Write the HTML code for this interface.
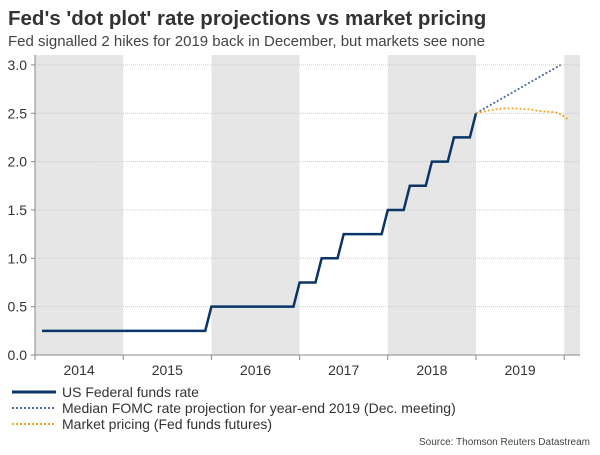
<!DOCTYPE html>
<html><head><meta charset="utf-8"><style>
body{margin:0;width:600px;height:450px;background:#fff;font-family:"Liberation Sans",sans-serif;overflow:hidden}
</style></head><body>
<svg width="600" height="450" id="c" font-family="Liberation Sans, sans-serif">
<text x="8" y="25" font-size="20.5" font-weight="bold" fill="#333">Fed's 'dot plot' rate projections vs market pricing</text>
<text x="8" y="46" font-size="15" fill="#444">Fed signalled 2 hikes for 2019 back in December, but markets see none</text>
<g id="bands"></g><g id="grid"></g><g id="axes"></g><g id="series"></g>
<g>
<line x1="12" y1="392" x2="56" y2="392" stroke="#0a3566" stroke-width="3"/>
<text x="62" y="397" font-size="14" fill="#333">US Federal funds rate</text>
<line x1="12" y1="408" x2="56" y2="408" stroke="#4a6d96" stroke-width="2" stroke-dasharray="2,2"/>
<text x="62" y="413" font-size="14" fill="#333">Median FOMC rate projection for year-end 2019 (Dec. meeting)</text>
<line x1="12" y1="424" x2="56" y2="424" stroke="#f5a623" stroke-width="2" stroke-dasharray="2,2"/>
<text x="62" y="429" font-size="14" fill="#333">Market pricing (Fed funds futures)</text>
</g>
<text x="590" y="445" font-size="10" fill="#444" text-anchor="end">Source: Thomson Reuters Datastream</text>
</svg>
<script>
const years=[2014,2015,2016,2017,2018,2019];
const yTicks=[0,0.5,1,1.5,2,2.5,3];
const fedT=[2014.08,2015.93,2016.0,2016.93,2017.0,2017.18,2017.25,2017.43,2017.5,2017.93,2018.0,2018.18,2018.25,2018.43,2018.5,2018.68,2018.75,2018.93,2019.0];
const fedV=[0.25,0.25,0.5,0.5,0.75,0.75,1.0,1.0,1.25,1.25,1.5,1.5,1.75,1.75,2.0,2.0,2.25,2.25,2.5];
const fomcT=[2019.0,2019.96];
const fomcV=[2.5,3.0];
const mktT=[2019.0,2019.15,2019.3,2019.45,2019.6,2019.75,2019.9,2019.98,2020.05];
const mktV=[2.5,2.53,2.55,2.55,2.54,2.52,2.51,2.48,2.43];
const X=t=>35+(t-2014)*88.2, Y=v=>355-v*96.7;
const NS='http://www.w3.org/2000/svg';
function mk(tag,attrs,parent){const e=document.createElementNS(NS,tag);for(const k in attrs)e.setAttribute(k,attrs[k]);document.getElementById(parent).appendChild(e);return e;}
[2014,2016,2018,2020].forEach(y=>{const r=mk('rect',{x:X(y),y:55,width:Math.min(88.2,580-X(y)),height:300,fill:'#e6e6e6'},'bands');

});
yTicks.forEach(v=>{const l=mk('line',{x1:35,x2:580,y1:Y(v),y2:Y(v),stroke:'#ccc','stroke-dasharray':'1,1'},'grid');


const t=mk('text',{x:27,y:Y(v)+5,'font-size':14,fill:'#333','text-anchor':'end'},'axes');t.textContent=v.toFixed(1);


mk('line',{x1:31,x2:35,y1:Y(v),y2:Y(v),stroke:'#888'},'axes');});
mk('line',{x1:35,x2:35,y1:55,y2:355,stroke:'#888'},'axes');
mk('line',{x1:35,x2:580,y1:355,y2:355,stroke:'#888'},'axes');
years.concat([2020]).forEach(y=>mk('line',{x1:X(y),x2:X(y),y1:355,y2:360,stroke:'#888'},'axes'));
years.forEach(y=>{const t=mk('text',{x:X(y+0.5),y:375,'font-size':14,fill:'#333','text-anchor':'middle'},'axes');t.textContent=y;

});
function line(T,V,st,name){const p=mk('polyline',Object.assign({points:T.map((t,i)=>X(t)+','+Y(V[i])).join(' '),fill:'none'},st),'series');

}
line(fedT,fedV,{stroke:'#0a3566','stroke-width':2.5},'fed-funds-line');
line(fomcT,fomcV,{stroke:'#4a6d96','stroke-width':1.8,'stroke-dasharray':'2,2'},'fomc-projection-line');
line(mktT,mktV,{stroke:'#f5a623','stroke-width':1.8,'stroke-dasharray':'2,2'},'market-pricing-line');
</script>
</body></html>
